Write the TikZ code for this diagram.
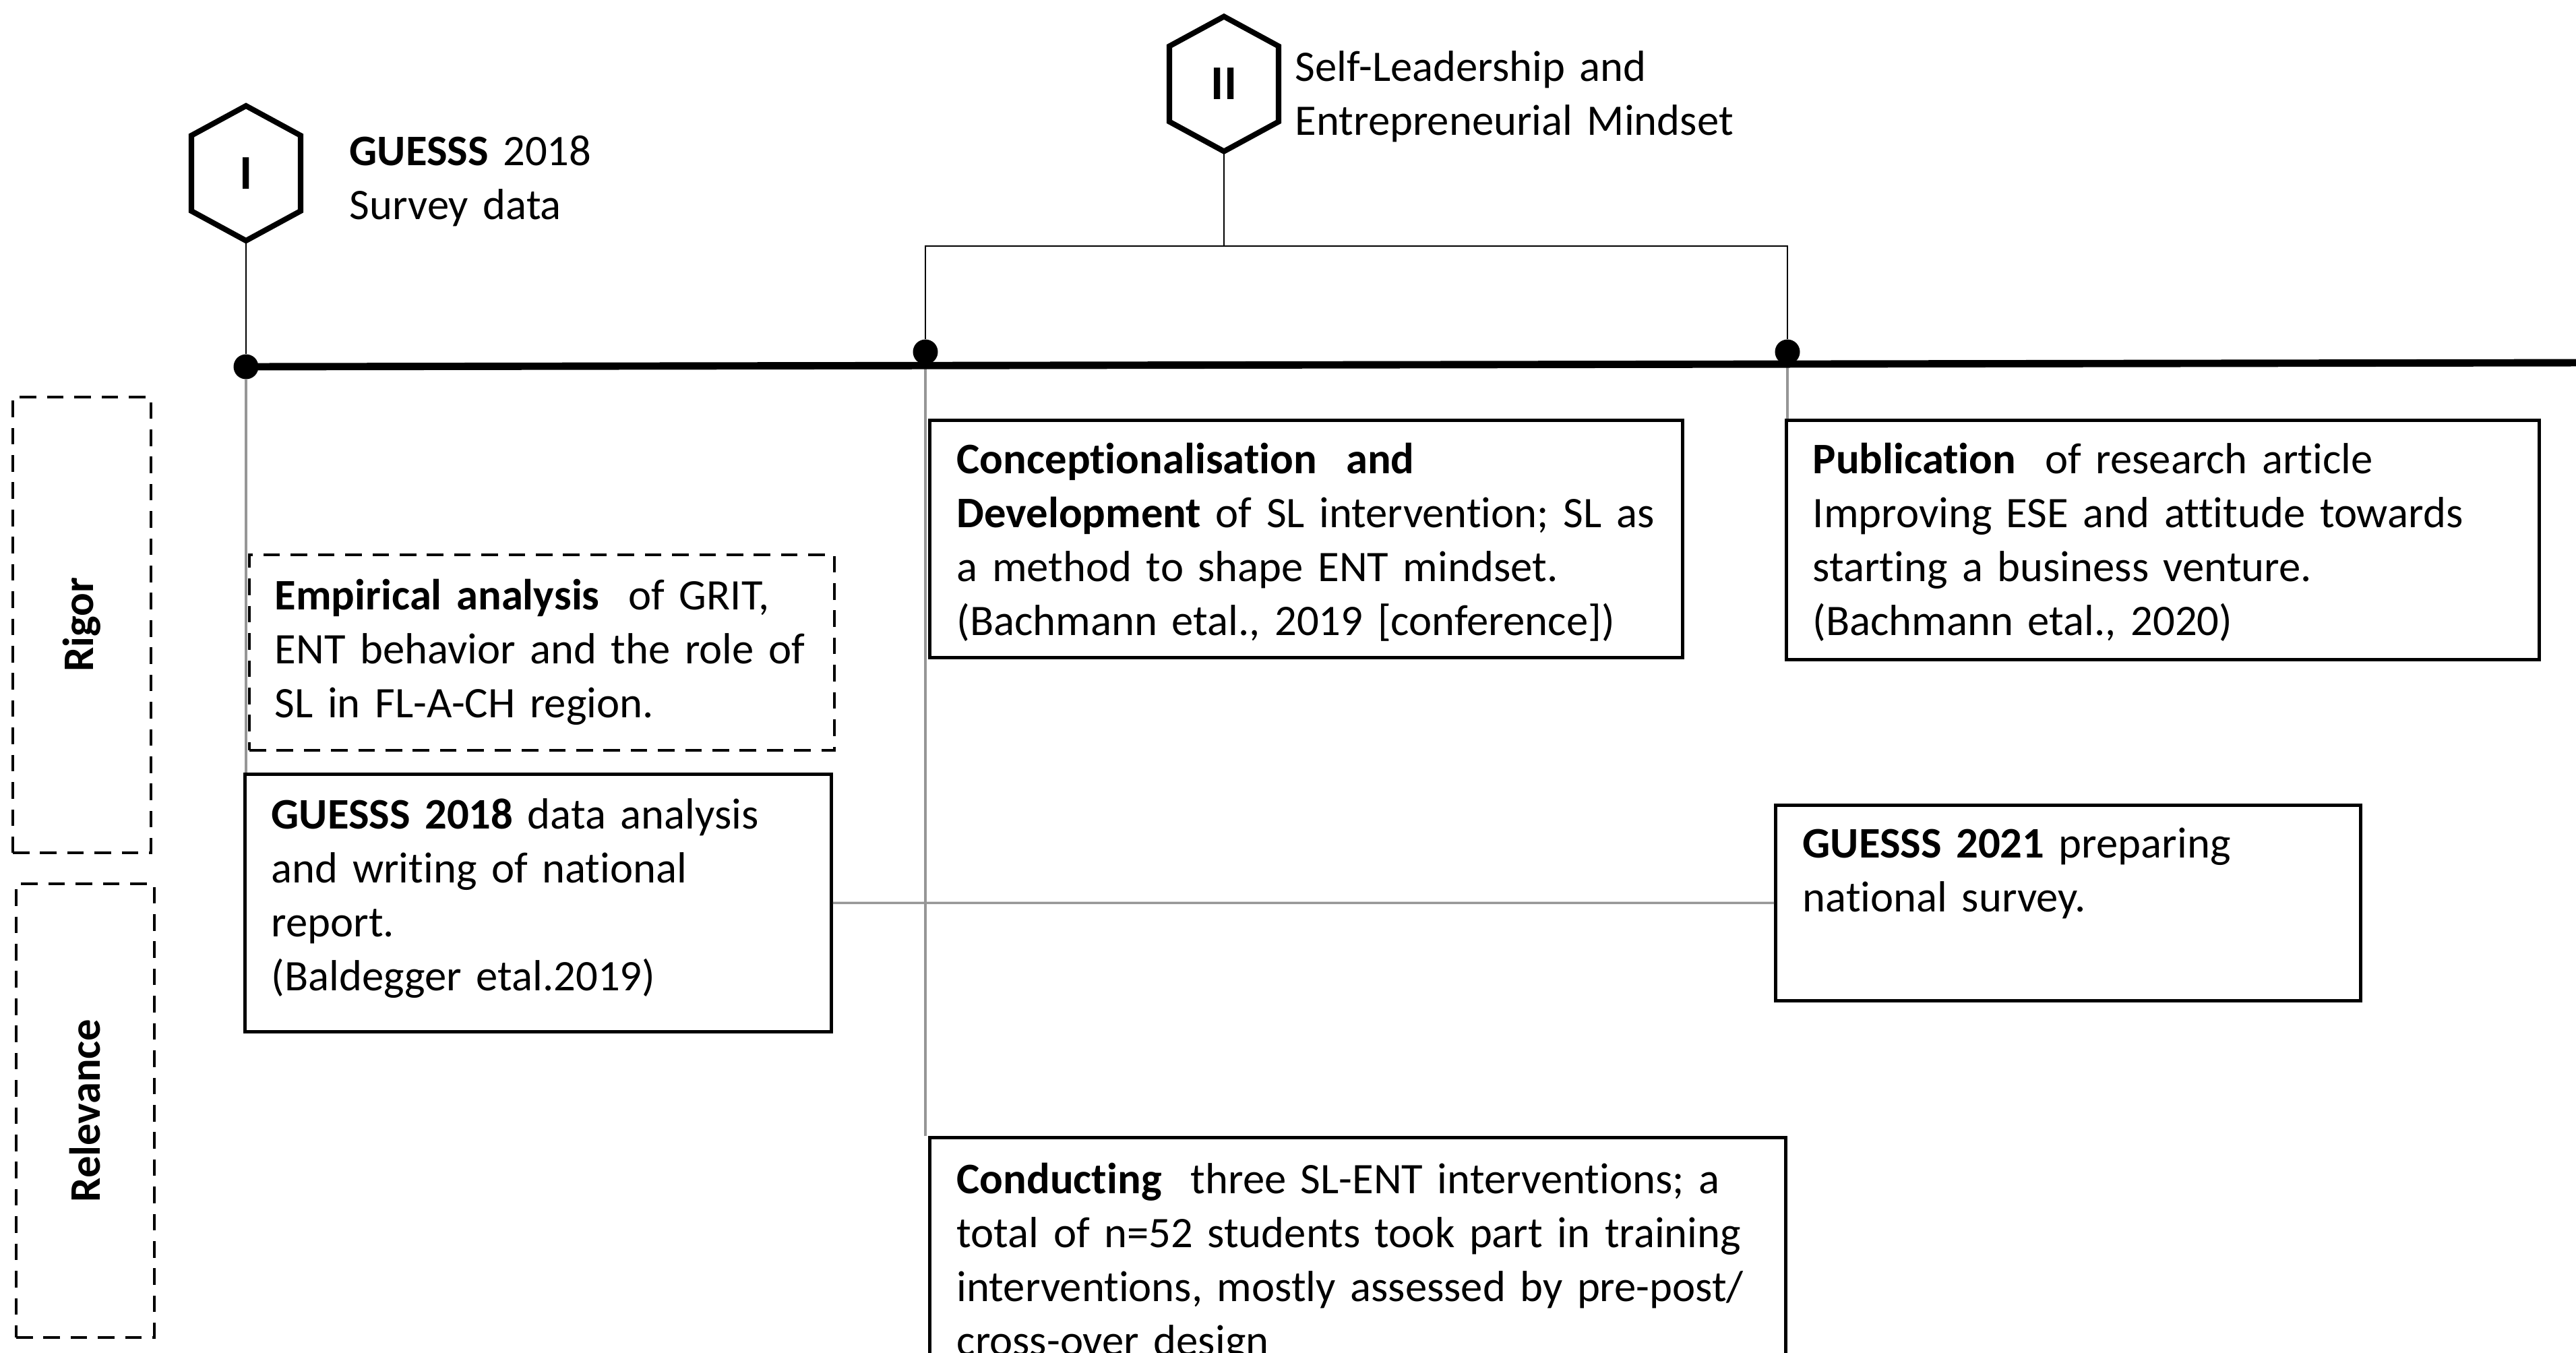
\documentclass[tikz,border=0pt]{standalone}
\usepackage{fontspec}
\setmainfont{Carlito}[Ligatures=NoCommon]
\usetikzlibrary{calc}
\definecolor{linegray}{RGB}{150,150,150}

\begin{document}
\begin{tikzpicture}[
	txt/.style={font=\fontsize{18.4}{22.8}\selectfont},
	hexline/.style={line width=2.3pt, line join=miter},
	hexlabel/.style={font=\fontsize{20.5}{24}\selectfont\bfseries, inner sep=0pt},
	solidbox/.style={draw, line width=1.4pt, inner sep=0pt, anchor=north west},
	dashbox/.style={solidbox, line width=1.1pt, dash pattern=on 7pt off 4.5pt},
	boxtext/.style={txt, anchor=base west, text width=12cm, align=left, inner sep=0pt},
	sidelabel/.style={font=\fontsize{18.4}{22.8}\selectfont\bfseries, rotate=90, inner sep=0pt},
	tdot/.style={circle, fill=black, inner sep=0pt, minimum size=0.37cm},
	stem/.style={line width=0.8pt},
	grayline/.style={draw=linegray, line width=1pt}
	]
	
	\clip (0,0) rectangle (38.22,-20.06);
	
	% phases
	\node[hexlabel] (H1) at (3.65,-2.57) {I};
	\draw[hexline] ($(H1)+(0,1.0)$) -- ($(H1)+(0.81,0.56)$) -- ($(H1)+(0.81,-0.56)$) -- ($(H1)+(0,-1.0)$) coordinate (H1B) -- ($(H1)+(-0.81,-0.56)$) -- ($(H1)+(-0.81,0.56)$) -- cycle;
	\node[hexlabel] (H2) at (18.16,-1.245) {II};
	\draw[hexline] ($(H2)+(0,1.0)$) -- ($(H2)+(0.81,0.56)$) -- ($(H2)+(0.81,-0.56)$) -- ($(H2)+(0,-1.0)$) coordinate (H2B) -- ($(H2)+(-0.81,-0.56)$) -- ($(H2)+(-0.81,0.56)$) -- cycle;
	
	\node[boxtext] (H1T) at (5.18,-2.45) {\textbf{GUESSS} 2018\\Survey data};
	\node[boxtext] (H2T) at (19.21,-1.20) {Self-Leadership and\\Entrepreneurial Mindset};
	
	% timeline
	\node[tdot] (D1) at (3.65,-5.44) {};
	\node[tdot] (D2) at (13.73,-5.22) {};
	\node[tdot] (D3) at (26.52,-5.22) {};
	\coordinate (TEND) at (38.4,-5.38);
	\coordinate (BL) at (13.73,-3.65);
	\coordinate (BR) at (26.52,-3.65);
	
	% boxes
	\node[dashbox, minimum width=8.68cm, minimum height=2.90cm] (EMP) at (3.68,-8.21) {};
	\node[solidbox, minimum width=8.70cm, minimum height=3.82cm] (G18) at (3.61,-11.46) {};
	\node[solidbox, minimum width=11.17cm, minimum height=3.52cm] (CONC) at (13.77,-6.21) {};
	\node[solidbox, minimum width=11.17cm, minimum height=3.55cm] (PUB) at (26.48,-6.21) {};
	\node[solidbox, minimum width=8.68cm, minimum height=2.90cm] (G21) at (26.32,-11.92) {};
	\node[solidbox, minimum width=12.70cm, minimum height=5cm] (COND) at (13.77,-16.85) {};
	\node[dashbox, minimum width=2.05cm, minimum height=6.76cm] (RIG) at (0.17,-5.87) {};
	\node[dashbox, minimum width=2.05cm, minimum height=6.73cm] (REL) at (0.22,-13.09) {};
	
	\node[sidelabel] (RIGT) at (RIG) {Rigor};
	\node[sidelabel] (RELT) at (REL) {Relevance};
	
	\draw[grayline] (D1) -- (D1 |- G18.north);
	\draw[grayline] (D2) -- (D2 |- COND.north);
	\draw[grayline] (D3) -- (D3 |- PUB.north);
	\draw[grayline] (G18.east) -- (G21.west);
	
	\draw[stem] (H1B) -- (D1);
	\draw[stem] (H2B) -- (H2B |- BL);
	\draw[stem] (D2) -- (BL) -- (BR) -- (D3);
	\draw[line width=3.1pt] (D1.center) -- (TEND);
	
	\node[boxtext] (EMPT) at ($(EMP.north west)+(0.39,-0.83)$) {\textbf{Empirical analysis}\ \ of GRIT,\\ENT behavior and the role of\\SL in FL-A-CH region.};
	\node[boxtext] (G18T) at ($(G18.north west)+(0.41,-0.83)$) {\textbf{GUESSS 2018} data analysis\\and writing of national\\report.\\(Baldegger etal.2019)};
	\node[boxtext] (CONCT) at ($(CONC.north west)+(0.42,-0.81)$) {\textbf{Conceptionalisation\ \ and}\\\textbf{Development} of SL intervention; SL as\\a method to shape ENT mindset.\\(Bachmann etal., 2019 [conference])};
	\node[boxtext] (PUBT) at ($(PUB.north west)+(0.41,-0.81)$) {\textbf{Publication}\ \ of research article\\Improving ESE and attitude towards\\starting a business venture.\\(Bachmann etal., 2020)};
	\node[boxtext] (G21T) at ($(G21.north west)+(0.42,-0.80)$) {\textbf{GUESSS 2021} preparing\\national survey.};
	\node[boxtext] (CONDT) at ($(COND.north west)+(0.42,-0.85)$) {\textbf{Conducting}\ \ three SL-ENT interventions; a\\total of n=52 students took part in training\\interventions, mostly assessed by pre-post/\\cross-over design};
	
\end{tikzpicture}
\end{document}
